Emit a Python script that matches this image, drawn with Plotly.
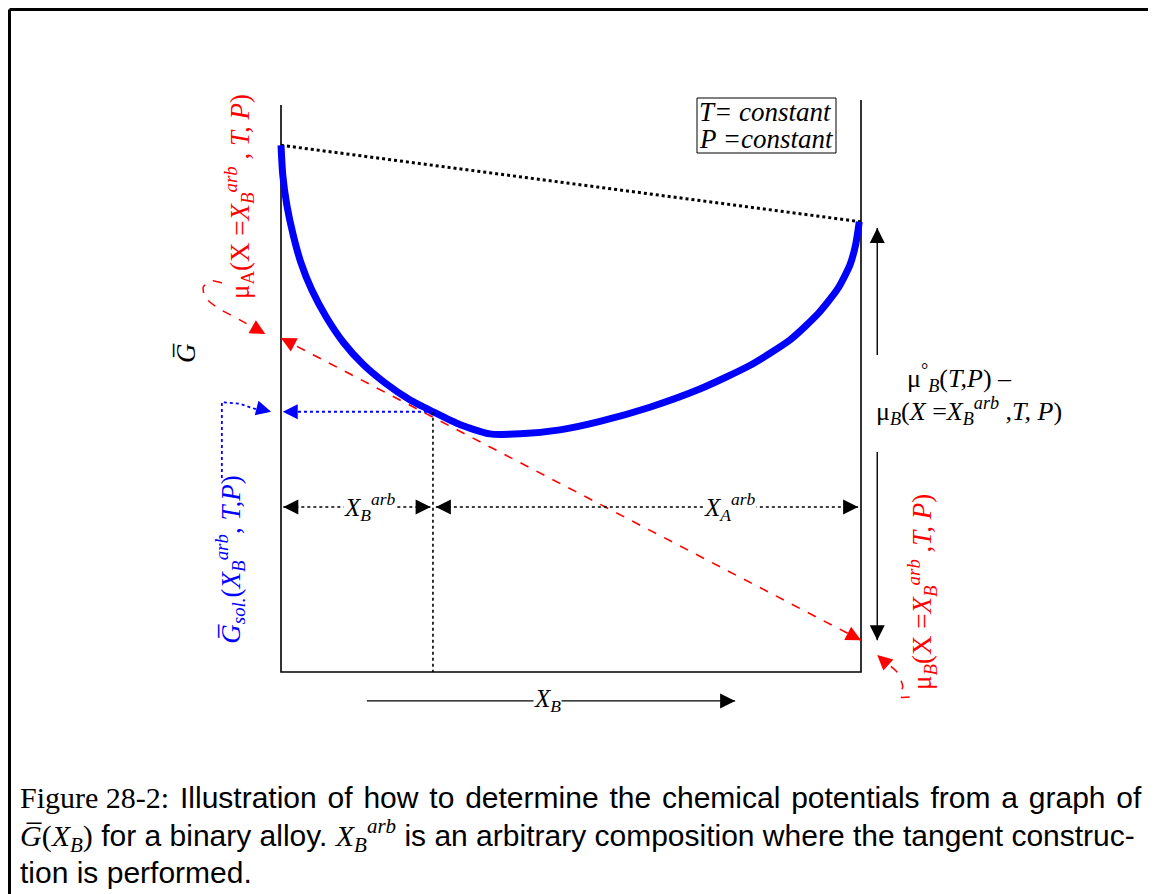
import plotly.graph_objects as go

# ---------------- data (X_B composition, molar Gibbs energy G in arbitrary units) -------------
curve_xb = [0.0, 0.003, 0.010, 0.021, 0.034, 0.053, 0.078, 0.107, 0.141, 0.179, 0.222, 0.262,
            0.309, 0.360, 0.412, 0.481, 0.550, 0.636, 0.722, 0.809, 0.878, 0.926, 0.960, 0.981,
            0.991, 0.997]
curve_g = [0.929, 0.877, 0.824, 0.771, 0.723, 0.674, 0.626, 0.582, 0.543, 0.510, 0.480, 0.459,
           0.436, 0.420, 0.420, 0.427, 0.442, 0.467, 0.499, 0.541, 0.586, 0.632, 0.676, 0.718,
           0.755, 0.794]
chord_xb = [0.0, 1.0]
chord_g = [0.929, 0.794]
tangent_xb = [0.0, 1.0]
tangent_g = [0.589, 0.056]
x_arb = 0.262
g_arb = 0.459
axis_top_left = 1.0
axis_top_right = 1.009
lever_g = 0.291
xb_arrow_x = [0.148, 0.783]
xb_arrow_g = -0.051
mu_diff_x = 1.028
mu_up_g = [0.559, 0.783]
mu_down_g = [0.388, 0.056]
muA_hook_x = [-0.102, -0.119, -0.134, -0.131, -0.109, -0.071, -0.036]
muA_hook_g = [0.686, 0.690, 0.679, 0.661, 0.642, 0.621, 0.601]
gsol_hook_x = [-0.102, -0.102, -0.071, -0.036]
gsol_hook_g = [0.342, 0.476, 0.473, 0.461]
muB_hook_x = [1.084, 1.067, 1.072, 1.062, 1.041]
muB_hook_g = [-0.044, -0.044, -0.025, 0.000, 0.018]

# pixel mapping (the page adds an 8 px body margin around the figure)
OFF = 8.0
PX0, PXS = 281.0 - OFF, 580.0
PY0, PYS = 672.0 - OFF, 567.0
W, H = 1156, 894

def px(x):
    return (x - OFF) / W

def py(y):
    return 1 - (y - OFF) / H

RED = "#ff0000"
BLUE = "#0000ff"
SERIF = "Liberation Serif"

fig = go.Figure()

def line(x, y, color="black", width=1.5, dash="solid", smooth=False):
    ln = dict(color=color, width=width, dash=dash)
    if smooth:
        ln.update(shape="spline", smoothing=0.6)
    fig.add_trace(go.Scatter(x=x, y=y, mode="lines", hoverinfo="skip", line=ln))

# frame of the G(X_B) diagram
line([0, 0, 1, 1], [axis_top_left, 0, 0, axis_top_right], width=1.6)
# chord between pure-component values
line(chord_xb, chord_g, width=3, dash="dot")
# tangent
line(tangent_xb, tangent_g, color=RED, width=1.6, dash="dash")
# G curve
line(curve_xb, curve_g, color=BLUE, width=7, smooth=True)
# construction lines
line([x_arb, 0.004], [g_arb, g_arb], color=BLUE, width=1.8, dash="dot")
line([x_arb, x_arb], [g_arb, 0], width=1.6, dash="dot")
line([0.004, 0.258], [lever_g, lever_g], width=1.6, dash="dot")
line([0.267, 0.995], [lever_g, lever_g], width=1.6, dash="dot")
line(xb_arrow_x, [xb_arrow_g, xb_arrow_g], width=1.4)
line([mu_diff_x, mu_diff_x], mu_up_g, width=1.4)
line([mu_diff_x, mu_diff_x], mu_down_g, width=1.4)
# hooks from labels
line(muA_hook_x, muA_hook_g, color=RED, width=1.5, dash="dash", smooth=True)
line(gsol_hook_x, gsol_hook_g, color=BLUE, width=1.8, dash="dot")
line(muB_hook_x, muB_hook_g, color=RED, width=1.5, dash="dash", smooth=True)

anns = []

def head(xt, yt, xf, yf, color="black", size=1.0, back=10.0):
    # short arrow (only the head) at (xt, yt) pointing away from (xf, yf)
    dxp = (xt - xf) * PXS
    dyp = (yt - yf) * PYS
    n = (dxp ** 2 + dyp ** 2) ** 0.5
    ax = xt - dxp / n * back / PXS
    ay = yt - dyp / n * back / PYS
    anns.append(dict(x=xt, y=yt, ax=ax, ay=ay, xref="x", yref="y", axref="x", ayref="y",
                     text="", showarrow=True, arrowhead=2, arrowsize=size, arrowwidth=3,
                     arrowcolor=color, standoff=0))

mid_g = 0.5 * tangent_g[0] + 0.5 * tangent_g[1]
head(0.0, tangent_g[0], 0.5, mid_g, RED, 1.0)
head(1.0, tangent_g[1], 0.5, mid_g, RED, 1.0)
head(0.003, g_arb, x_arb, g_arb, BLUE, 1.0)
head(0.004, lever_g, 0.2, lever_g, "black", 1.0)
head(0.258, lever_g, 0.1, lever_g, "black", 1.0)
head(0.267, lever_g, 0.6, lever_g, "black", 1.0)
head(0.995, lever_g, 0.6, lever_g, "black", 1.0)
head(xb_arrow_x[1], xb_arrow_g, 0.5, xb_arrow_g, "black", 1.0)
head(mu_diff_x, mu_up_g[1], mu_diff_x, 0.6, "black", 1.0)
head(mu_diff_x, mu_down_g[1], mu_diff_x, 0.3, "black", 1.0)
head(-0.027, 0.596, muA_hook_x[-2], muA_hook_g[-2], RED, 1.0)
head(-0.017, g_arb, gsol_hook_x[-2], gsol_hook_g[-2], BLUE, 1.0)
head(1.028, 0.030, muB_hook_x[-1], muB_hook_g[-1], RED, 1.0)

def label(x, y, text, color="black", size=24, angle=0, bg=None, xanchor="center"):
    d = dict(x=x, y=y, xref="x", yref="y", text=text, showarrow=False, textangle=angle,
             font=dict(family=SERIF, size=size, color=color), xanchor=xanchor, yanchor="middle")
    if bg:
        d["bgcolor"] = bg
        d["borderpad"] = 0
    anns.append(d)

label(-0.072, 0.838, "μ<sub>A</sub>(X =<i>X</i><sub><i>B</i></sub><sup><i>arb</i></sup> , <i>T, P</i>)",
      RED, 27, -90)
label(-0.088, 0.198, "<i>G\u0305</i><sub><i>sol.</i></sub>(<i>X</i><sub><i>B</i></sub><sup><i>arb</i></sup>, <i>T,P</i>)",
      BLUE, 27, -90)
label(1.105, 0.141, "μ<sub><i>B</i></sub>(X =<i>X</i><sub><i>B</i></sub><sup><i>arb</i></sup> ,<i>T, P</i>)",
      RED, 27, -90)
label(-0.165, 0.563, "<i>G\u0305</i>", "black", 27, -90)
label(0.153, lever_g, "<i>X</i><sub><i>B</i></sub><sup><i>arb</i></sup>", size=25, bg="white")
label(0.774, lever_g, "<i>X</i><sub><i>A</i></sub><sup><i>arb</i></sup>", size=25, bg="white")
label(0.459, xb_arrow_g, "<i>X</i><sub><i>B</i></sub>", size=25, bg="white")
label(1.170, 0.519, "μ<sup>°</sup><sub><i>B</i></sub>(<i>T,P</i>) –", size=26)
label(1.186, 0.460, "μ<sub><i>B</i></sub>(<i>X</i> =<i>X</i><sub><i>B</i></sub><sup><i>arb</i></sup> ,<i>T, P</i>)", size=26)
label(0.718, 0.988, "<i>T= constant</i>", size=27, xanchor="left")
label(0.718, 0.940, "<i>P =constant</i>", size=27, xanchor="left")

# caption
CAP = "Liberation Sans"
line1 = "Illustration of how to determine the chemical potentials from a graph of".replace(" ", " \u200a")
cap_lines = [
    "<span style='font-family:Liberation Serif'>Figure 28-2:</span> \u200a" + line1,
    "<span style='font-family:Liberation Serif'><i>G\u0305</i>(<i>X</i><sub><i>B</i></sub>)</span> for a binary alloy. "
    "<span style='font-family:Liberation Serif'><i>X</i><sub><i>B</i></sub><sup><i>arb</i></sup></span> is an arbitrary composition where the tangent construc-",
    "tion is performed.",
]
cap_y = [797, 835, 872]
for t, yy in zip(cap_lines, cap_y):
    anns.append(dict(x=px(18), y=py(yy), xref="paper", yref="paper", text=t, showarrow=False,
                     xanchor="left", yanchor="middle",
                     font=dict(family=CAP, size=30, color="black")))

shapes = [
    # outer frame (top and left)
    dict(type="line", xref="paper", yref="paper", x0=px(9.5), x1=1.0, y0=py(9.5), y1=py(9.5),
         line=dict(color="black", width=3)),
    dict(type="line", xref="paper", yref="paper", x0=px(9.5), x1=px(9.5), y0=py(9.5), y1=0,
         line=dict(color="black", width=3)),
    # box around T, P condition
    dict(type="rect", xref="paper", yref="paper", x0=px(697), x1=px(836), y0=py(98), y1=py(153),
         line=dict(color="black", width=1)),
]

fig.update_layout(
    width=W, height=H, margin=dict(l=0, r=0, t=0, b=0),
    paper_bgcolor="white", plot_bgcolor="white", showlegend=False,
    xaxis=dict(range=[-PX0 / PXS, (W - PX0) / PXS], visible=False, fixedrange=True),
    yaxis=dict(range=[(PY0 - H) / PYS, PY0 / PYS], visible=False, fixedrange=True),
    annotations=anns, shapes=shapes,
)

fig.write_html("out.html")
